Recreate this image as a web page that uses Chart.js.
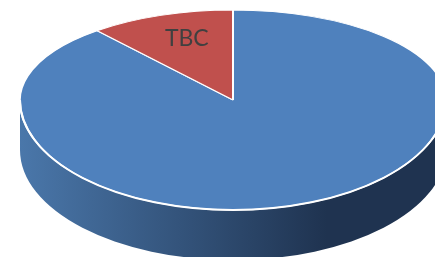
<!DOCTYPE html>
<html>
<head>
<meta charset="utf-8">
<script src="https://cdn.jsdelivr.net/npm/chart.js@4/dist/chart.umd.min.js"></script>
<style>
  html, body { margin: 0; padding: 0; background: #fff; }
  canvas { display: block; }
</style>
</head>
<body>
<canvas id="pieChart" width="435" height="257"></canvas>
<script>
// chart data
var categories = ['Other', 'TBC'];
var values = [89, 11];
var shownLabels = ['', 'TBC'];
var topColors = ['#4f81bd', '#c0504d'];
var sideLight = ['#4a77aa', '#9c3f3c'];
var sideDark = ['#1f3350', '#552422'];

// where the tilted pie sits on the canvas
var CX = 233, CY = 100, RX = 213, RY_BACK = 90, RY_FRONT = 110, DEPTH = 50;

/**
 * Squash the circle chart.js draws into the tilted ellipse
 */
function tiltTransform(ctx, arc, ry) {
  ctx.translate(CX, CY);
  ctx.scale(RX / arc.outerRadius, ry / arc.outerRadius);
  ctx.translate(-arc.x, -arc.y);
}

/**
 * Parts of a slice that face the viewer (angles 0..PI)
 */
function frontSpans(s, e) {
  var spans = [];
  var full = 2 * Math.PI;
  for (var k = -1; k <= 2; k++) {
    var a = Math.max(s, k * full);
    var b = Math.min(e, k * full + Math.PI);
    if (b > a) spans.push([a - k * full, b - k * full]);
  }
  return spans;
}

function drawSides(ctx, arcs) {
  arcs.forEach(function (arc, i) {
    frontSpans(arc.startAngle, arc.endAngle).forEach(function (span) {
      var grad = ctx.createLinearGradient(CX - RX, 0, CX + RX, 0);
      grad.addColorStop(0, sideLight[i]);
      grad.addColorStop(0.72, sideDark[i]);
      grad.addColorStop(1, sideDark[i]);
      ctx.save();
      ctx.beginPath();
      ctx.ellipse(CX, CY, RX, RY_FRONT, 0, span[0], span[1]);
      ctx.ellipse(CX, CY + DEPTH, RX, RY_FRONT, 0, span[1], span[0], true);
      ctx.closePath();
      ctx.fillStyle = grad;
      ctx.fill();
      ctx.restore();
    });
  });
}

var tiltPlugin = {
  id: 'tilt',
  beforeDatasetsDraw: function (chart) {
    var ctx = chart.ctx;
    var arcs = chart.getDatasetMeta(0).data;
    drawSides(ctx, arcs);
    // back half of the top face
    ctx.save();
    ctx.beginPath();
    ctx.rect(0, 0, chart.width, CY);
    ctx.clip();
    tiltTransform(ctx, arcs[0], RY_BACK);
  },
  afterDatasetsDraw: function (chart) {
    var ctx = chart.ctx;
    var meta = chart.getDatasetMeta(0);
    ctx.restore();

    // front half of the top face
    ctx.save();
    ctx.beginPath();
    ctx.rect(0, CY, chart.width, chart.height - CY);
    ctx.clip();
    tiltTransform(ctx, meta.data[0], RY_FRONT);
    meta.controller.draw();
    ctx.restore();

    // white rim on the front edge
    ctx.save();
    ctx.beginPath();
    ctx.ellipse(CX, CY, RX, RY_FRONT, 0, 0, Math.PI);
    ctx.strokeStyle = '#ffffff';
    ctx.lineWidth = 2;
    ctx.stroke();
    ctx.restore();

    // slice labels
    ctx.save();
    ctx.font = '23px Lato, "Liberation Sans", sans-serif';
    ctx.fillStyle = '#404040';
    ctx.textAlign = 'center';
    ctx.textBaseline = 'middle';
    meta.data.forEach(function (arc, i) {
      if (!shownLabels[i]) return;
      var mid = (arc.startAngle + arc.endAngle) / 2;
      var sin = Math.sin(mid);
      var x = CX + RX * 0.64 * Math.cos(mid);
      var y = CY + (sin < 0 ? RY_BACK : RY_FRONT) * 0.72 * sin;
      ctx.fillText(shownLabels[i], x, y);
    });
    ctx.restore();
  }
};

var ctx = document.getElementById('pieChart').getContext('2d');
var chart = new Chart(ctx, {
  type: 'pie',
  data: {
    labels: categories,
    datasets: [
      {
        data: values,
        backgroundColor: topColors,
        borderColor: '#ffffff',
        borderWidth: 1.2,
        clip: false,
      },
    ],
  },
  options: {
    responsive: false,
    animation: false,
    devicePixelRatio: 1,
    layout: { padding: 0 },
    plugins: {
      legend: { display: false },
      tooltip: { enabled: false },
    },
  },
  plugins: [tiltPlugin],
});
</script>
</body>
</html>
